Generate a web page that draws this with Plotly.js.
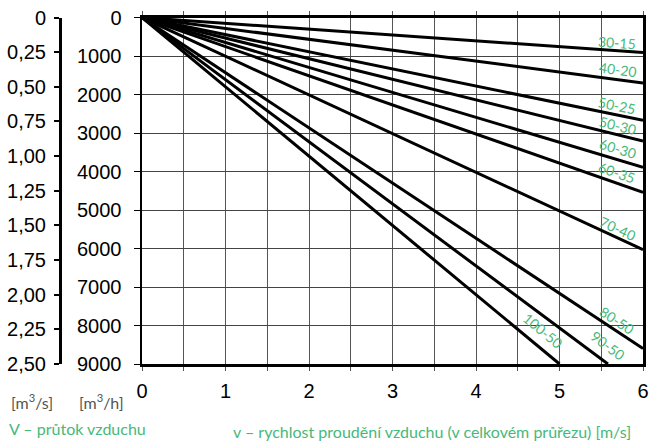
<!DOCTYPE html>
<html>
<head>
<meta charset="utf-8">
<script src="https://cdn.plot.ly/plotly-3.0.1.min.js"></script>
<style>html,body{margin:0;padding:0;background:#fff;}#chart{width:650px;height:441px;}</style>
</head>
<body>
<div id="chart"></div>
<script>
// Duct sizes (cm) and where each line ends (velocity m/s, airflow m3/h)
const ductLabels = ["30-15","40-20","50-25","50-30","60-30","60-35","70-40","80-50","90-50","100-50"];
const endVelocity = [6, 6, 6, 6, 6, 6, 6, 6, 5.58, 5.0];
const endFlow = [910, 1700, 2670, 3210, 3890, 4540, 6030, 8600, 9000, 9000];

const flowTicks = [0,1000,2000,3000,4000,5000,6000,7000,8000,9000];
const flowSecTicks = [0,0.25,0.5,0.75,1.0,1.25,1.5,1.75,2.0,2.25,2.5];
const flowSecText = ["0","0,25","0,50","0,75","1,00","1,25","1,50","1,75","2,00","2,25","2,50"];
const velTicks = [0,1,2,3,4,5,6];
const velText = ["0","1","2","3","4","5","6"];

// label placement (data coords) — layout only
const labelPos = [[5.69,640],[5.70,1340],[5.69,2276],[5.70,2797],[5.70,3395],[5.69,4020],[5.70,5476],[5.69,7870],[5.58,8520],[4.80,8130]];

const W = 650, H = 441;
const plotL = 142, plotR = 643, plotT = 17.5, plotB = 364;
const pxPerV = (plotR-plotL)/6, pxPerQ = (plotB-plotT)/9000;
const green = "#46b97a";

const traces = ductLabels.map((n,i)=>({
  type:"scatter", mode:"lines", x:[0,endVelocity[i]], y:[0,endFlow[i]],
  line:{color:"#000",width:3}, hoverinfo:"skip", showlegend:false
}));
traces.push({type:"scatter",mode:"markers",x:[0],y:[0],yaxis:"y2",marker:{opacity:0},hoverinfo:"skip",showlegend:false});

const annotations = ductLabels.map((n,i)=>{
  const ang = Math.atan((endFlow[i]*pxPerQ)/(endVelocity[i]*pxPerV))*180/Math.PI;
  return {x:labelPos[i][0], y:labelPos[i][1], xref:"x", yref:"y", text:n, showarrow:false,
    textangle:ang, font:{family:"Lato, 'Open Sans', sans-serif", size:14, color:green}};
});
annotations.push(
  {x:9/W, y:1-401/H, xref:"paper", yref:"paper", xanchor:"left", yanchor:"middle", showarrow:false,
   text:"[m<sup>3</sup>/s]", font:{family:"Lato, sans-serif", size:16, color:"#555"}},
  {x:77/W, y:1-401/H, xref:"paper", yref:"paper", xanchor:"left", yanchor:"middle", showarrow:false,
   text:"[m<sup>3</sup>/h]", font:{family:"Lato, sans-serif", size:16, color:"#555"}},
  {x:7/W, y:1-428/H, xref:"paper", yref:"paper", xanchor:"left", yanchor:"middle", showarrow:false,
   text:"V – průtok vzduchu", font:{family:"Lato, sans-serif", size:16, color:green}},
  {x:231/W, y:1-431/H, xref:"paper", yref:"paper", xanchor:"left", yanchor:"middle", showarrow:false,
   text:"v – rychlost proudění vzduchu (v celkovém průřezu) [m/s]", font:{family:"Lato, sans-serif", size:16, color:green}}
);

const tickFont = {family:"'Liberation Sans', Arial, sans-serif", size:20, color:"#000"};

const layout = {
  width:W, height:H, margin:{l:0,r:0,t:0,b:0}, paper_bgcolor:"#fff", plot_bgcolor:"#fff",
  showlegend:false,
  xaxis:{domain:[plotL/W, plotR/W], range:[0,6], tickmode:"array", tickvals:velTicks, ticktext:velText,
    showgrid:true, gridcolor:"#555", gridwidth:1, zeroline:false,
    minor:{dtick:0.5, tick0:0, showgrid:true, gridcolor:"#555", gridwidth:1, ticks:"outside", ticklen:4, tickcolor:"#555"},
    showline:true, linecolor:"#000", linewidth:2.5, mirror:"allticks", ticks:"outside", ticklen:4, tickcolor:"#555",
    tickfont:tickFont, ticklabelstandoff:3},
  yaxis:{domain:[1-plotB/H, 1-plotT/H], range:[9000,0], tickmode:"array", tickvals:flowTicks,
    ticktext:flowTicks.map(String), showgrid:true, gridcolor:"#444", gridwidth:1, zeroline:false,
    showline:true, linecolor:"#000", linewidth:2.5, mirror:true, ticks:"outside", ticklen:6, tickcolor:"#000",
    tickfont:tickFont, ticklabelstandoff:8},
  yaxis2:{overlaying:"y", anchor:"free", position:60/W, side:"left", range:[2.5,0],
    tickmode:"array", tickvals:flowSecTicks, ticktext:flowSecText, showgrid:false, zeroline:false,
    showline:true, linecolor:"#000", linewidth:3, ticks:"outside", ticklen:5, tickwidth:2, tickcolor:"#000",
    tickfont:tickFont, ticklabelstandoff:4},
  annotations:annotations
};

Plotly.newPlot("chart", traces, layout, {staticPlot:true, displayModeBar:false});
</script>
</body>
</html>
